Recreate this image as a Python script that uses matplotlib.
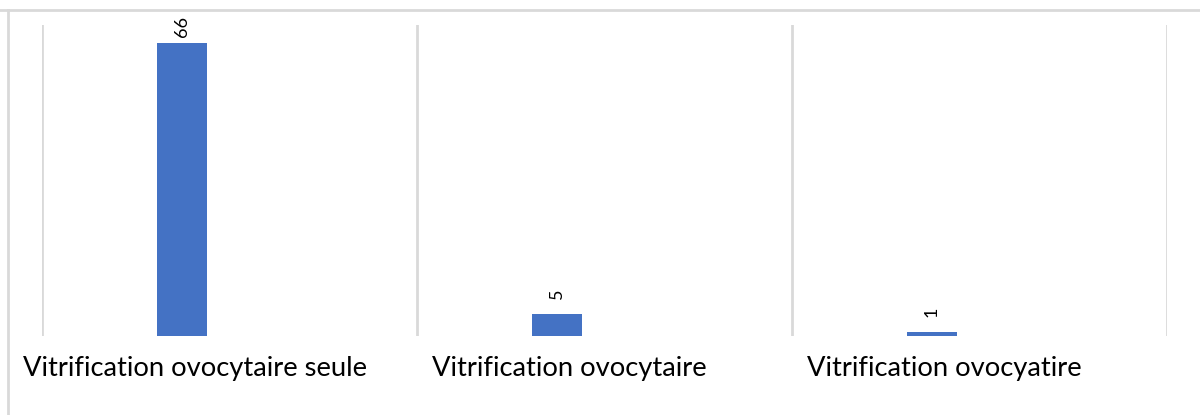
import matplotlib
matplotlib.use("Agg")
import matplotlib.pyplot as plt
from matplotlib.lines import Line2D

categories = ["Vitrification ovocytaire seule", "Vitrification ovocytaire", "Vitrification ovocyatire"]
values = [66, 5, 1]

plt.rcParams['font.family'] = ['Lato', 'DejaVu Sans']

fig = plt.figure(figsize=(12, 4.15), dpi=100)
ax = fig.add_axes([42/1200, 1-336/415, (1167-42)/1200, (336-25)/415])

n = len(categories)
pos = [i + 0.373 for i in range(n)]
bars = ax.bar(pos, values, width=0.135, color="#4472C4", zorder=3)
ymax = 70
ax.set_xlim(0, n)
ax.set_ylim(0, ymax)

for b, v in zip(bars, values):
    ly = min(v + 3.3, ymax - 2.7)
    ax.text(b.get_x() + b.get_width()/2, ly, str(v), rotation=90,
            ha="center", va="bottom", fontsize=13, color="#000000")

for i, c in enumerate(categories):
    ax.text(i + 0.407, -7.3, c, ha="center", va="center", fontsize=19.7,
            color="#000000", clip_on=False)

ax.set_xticks(range(n + 1))
ax.xaxis.grid(True, color="#d9d9d9", linewidth=2)
ax.tick_params(axis="both", length=0, labelbottom=False, labelleft=False)
for s in ax.spines.values():
    s.set_visible(False)
ax.set_yticks([])

fig.add_artist(Line2D([0, 1], [1-10/415, 1-10/415], color="#d9d9d9", linewidth=2, transform=fig.transFigure))
fig.add_artist(Line2D([8/1200, 8/1200], [0, 1-10/415], color="#d9d9d9", linewidth=2, transform=fig.transFigure))

fig.savefig("out.png", dpi=100)
